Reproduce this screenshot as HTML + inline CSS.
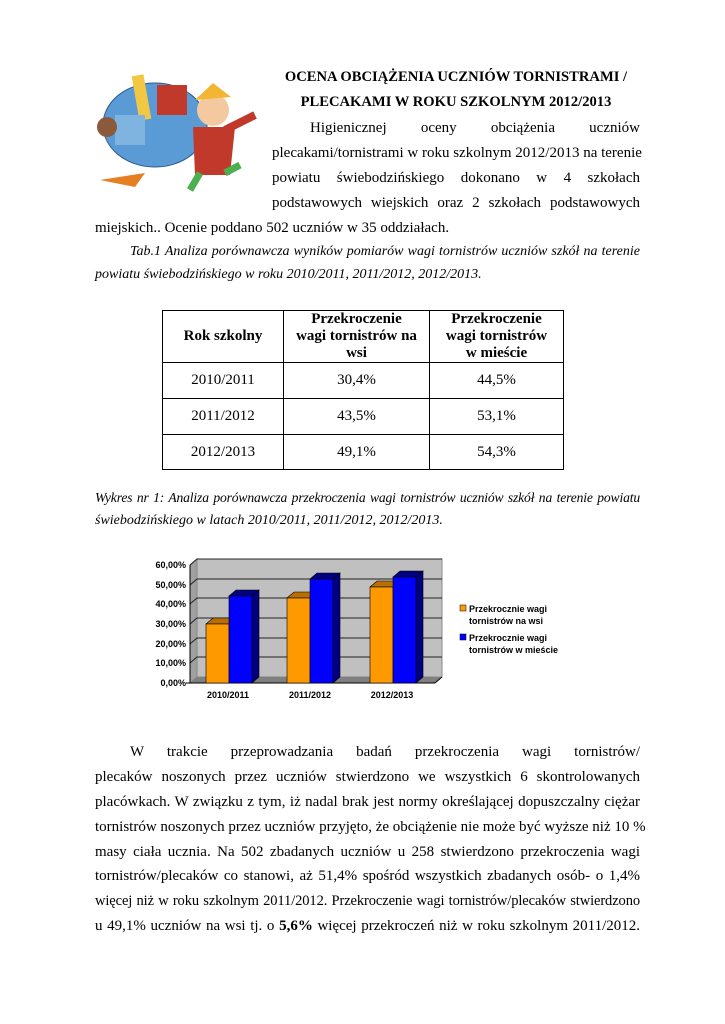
<!DOCTYPE html>
<html><head><meta charset="utf-8"><style>
body{margin:0;width:725px;height:1024px;background:#fff;position:relative;font-family:"Liberation Serif",serif;color:#000;overflow:hidden}
.l{position:absolute;font-size:15px;white-space:nowrap;line-height:18px}
.j{position:absolute;font-size:15px;line-height:18px;text-align:justify;text-align-last:justify;white-space:nowrap}
.c{text-align:center}
table{position:absolute;left:162px;top:310px;border-collapse:collapse;font-size:15px}
td{border:1px solid #000;text-align:center;padding:0;line-height:17px}
</style></head><body>
<svg style="position:absolute;left:95px;top:55px" width="170" height="140" viewBox="0 0 170 140">
<ellipse cx="60" cy="70" rx="52" ry="42" fill="#5b9bd5" stroke="#2a5a8a"/>
<rect x="40" y="20" width="12" height="45" fill="#f2c744" transform="rotate(-10 46 40)"/>
<rect x="62" y="30" width="30" height="30" fill="#c0392b"/>
<rect x="20" y="60" width="30" height="30" fill="#7fb3e0"/>
<circle cx="12" cy="72" r="10" fill="#8b5a3c"/>
<path d="M5 125 L50 118 L40 132Z" fill="#e67e22"/>
<circle cx="118" cy="55" r="16" fill="#f5c9a0"/>
<path d="M100 45 L118 28 L136 42 Z" fill="#f2b632"/>
<path d="M98 72 L140 72 L135 120 L100 120Z" fill="#c0392b"/>
<path d="M130 75 L160 60" stroke="#c0392b" stroke-width="8"/>
<path d="M105 118 L95 135 M130 118 L145 110" stroke="#4caf50" stroke-width="7"/>
</svg>
<div class="l c" style="left:272px;width:368px;top:68px;font-weight:bold;font-size:14.6px">OCENA OBCIĄŻENIA UCZNIÓW TORNISTRAMI /</div>
<div class="l c" style="left:272px;width:368px;top:93px;font-weight:bold;font-size:14.6px">PLECAKAMI W ROKU SZKOLNYM 2012/2013</div>
<div class="j" style="left:310px;width:330px;top:119px">Higienicznej oceny obciążenia uczniów</div>
<div class="j" style="left:272px;width:368px;top:144px">plecakami/tornistrami w roku szkolnym 2012/2013 na terenie</div>
<div class="j" style="left:272px;width:368px;top:169px">powiatu świebodzińskiego dokonano w 4 szkołach</div>
<div class="j" style="left:272px;width:368px;top:194px">podstawowych wiejskich oraz 2 szkołach podstawowych</div>
<div class="l" style="left:95px;top:219px">miejskich.. Ocenie poddano 502 uczniów w 35 oddziałach.</div>
<div class="j" style="left:130px;width:510px;top:243px;font-style:italic;font-size:14px">Tab.1 Analiza porównawcza wyników pomiarów wagi tornistrów uczniów szkół na terenie</div>
<div class="l" style="left:95px;top:266px;font-style:italic;font-size:14px">powiatu świebodzińskiego w roku 2010/2011, 2011/2012, 2012/2013.</div>
<table>
<tr style="height:52px;font-weight:bold"><td style="width:120px">Rok szkolny</td><td style="width:145px">Przekroczenie<br>wagi tornistrów na<br>wsi</td><td style="width:133px">Przekroczenie<br>wagi tornistrów<br>w mieście</td></tr>
<tr style="height:36px"><td>2010/2011</td><td>30,4%</td><td>44,5%</td></tr>
<tr style="height:36px"><td>2011/2012</td><td>43,5%</td><td>53,1%</td></tr>
<tr style="height:35px"><td>2012/2013</td><td>49,1%</td><td>54,3%</td></tr>
</table>
<div class="j" style="left:95px;width:545px;top:489px;font-style:italic;font-size:13.6px;letter-spacing:-0.15px">Wykres nr 1: Analiza porównawcza przekroczenia wagi tornistrów uczniów szkół na terenie powiatu</div>
<div class="l" style="left:95px;top:512px;font-style:italic;font-size:14px">świebodzińskiego w latach 2010/2011, 2011/2012, 2012/2013.</div>
<svg style="position:absolute;left:0;top:0" width="725" height="1024">
<g font-family="Liberation Sans" font-size="9" font-weight="bold">
<polygon points="197,559 442,559 442,677 197,677" fill="#c0c0c0" stroke="#888"/>
<polygon points="190,565 197,559 197,677 190,683" fill="#a0a0a0" stroke="#888"/>
<polygon points="190,683 197,677 442,677 435,683" fill="#808080"/>
<g stroke="#222" stroke-width="1">
<polyline fill="none" points="190,663 197,657 442,657"/><polyline fill="none" points="190,644 197,638 442,638"/><polyline fill="none" points="190,624 197,618 442,618"/><polyline fill="none" points="190,604 197,598 442,598"/><polyline fill="none" points="190,585 197,579 442,579"/><polyline fill="none" points="190,565 197,559 442,559"/>
</g>
<line x1="190" y1="565" x2="190" y2="683" stroke="#000"/>
<line x1="186" y1="683" x2="435" y2="683" stroke="#000"/>
<line x1="435" y1="683" x2="442" y2="677" stroke="#000"/>
<g text-anchor="end">
<text x="186" y="686">0,00%</text><text x="186" y="666">10,00%</text><text x="186" y="647">20,00%</text><text x="186" y="627">30,00%</text><text x="186" y="607">40,00%</text><text x="186" y="588">50,00%</text><text x="186" y="568">60,00%</text>
</g>
<g stroke="#000" stroke-width="0.6">
<polygon points="206,624 213,618 236,618 229,624" fill="#b86e00"/><rect x="206" y="624" width="23" height="59" fill="#ff9900"/>
<polygon points="229,596 236,590 259,590 252,596" fill="#000080"/><polygon points="252,596 259,590 259,677 252,683" fill="#000080"/><rect x="229" y="596" width="23" height="87" fill="#0000ff"/>
<polygon points="287,598 294,592 317,592 310,598" fill="#b86e00"/><rect x="287" y="598" width="23" height="85" fill="#ff9900"/>
<polygon points="310,579 317,573 340,573 333,579" fill="#000080"/><polygon points="333,579 340,573 340,677 333,683" fill="#000080"/><rect x="310" y="579" width="23" height="104" fill="#0000ff"/>
<polygon points="370,587 377,581 400,581 393,587" fill="#b86e00"/><rect x="370" y="587" width="23" height="96" fill="#ff9900"/>
<polygon points="393,577 400,571 423,571 416,577" fill="#000080"/><polygon points="416,577 423,571 423,677 416,683" fill="#000080"/><rect x="393" y="577" width="23" height="106" fill="#0000ff"/>
</g>
<text x="228" y="698" text-anchor="middle">2010/2011</text><text x="310" y="698" text-anchor="middle">2011/2012</text><text x="392" y="698" text-anchor="middle">2012/2013</text>
<rect x="460" y="605" width="6" height="6" fill="#ff9900" stroke="#000" stroke-width="0.5"/>
<text x="469" y="612">Przekrocznie wagi</text><text x="469" y="624">tornistrów na wsi</text>
<rect x="460" y="634" width="6" height="6" fill="#0000ff" stroke="#000" stroke-width="0.5"/>
<text x="469" y="641">Przekrocznie wagi</text><text x="469" y="653">tornistrów w mieście</text>
</g></svg>
<div class="j" style="left:130px;width:510px;top:743px">W trakcie przeprowadzania badań przekroczenia wagi tornistrów/</div>
<div class="j" style="left:95px;width:545px;top:768px">plecaków noszonych przez uczniów stwierdzono we wszystkich 6 skontrolowanych</div>
<div class="j" style="left:95px;width:545px;top:793px">placówkach. W związku z tym, iż nadal brak jest normy określającej dopuszczalny ciężar</div>
<div class="j" style="left:95px;width:545px;top:818px">tornistrów noszonych przez uczniów przyjęto, że obciążenie nie może być wyższe niż 10 %</div>
<div class="j" style="left:95px;width:545px;top:843px">masy ciała ucznia. Na 502 zbadanych uczniów u 258 stwierdzono przekroczenia wagi</div>
<div class="j" style="left:95px;width:545px;top:867px">tornistrów/plecaków co stanowi, aż 51,4% spośród wszystkich zbadanych osób- o 1,4%</div>
<div class="j" style="left:95px;width:545px;top:892px;font-size:14.5px;letter-spacing:-0.1px">więcej niż w roku szkolnym 2011/2012. Przekroczenie wagi tornistrów/plecaków stwierdzono</div>
<div class="j" style="left:95px;width:545px;top:917px">u 49,1% uczniów na wsi tj. o <b>5,6%</b> więcej przekroczeń niż w roku szkolnym 2011/2012.</div>
</body></html>
